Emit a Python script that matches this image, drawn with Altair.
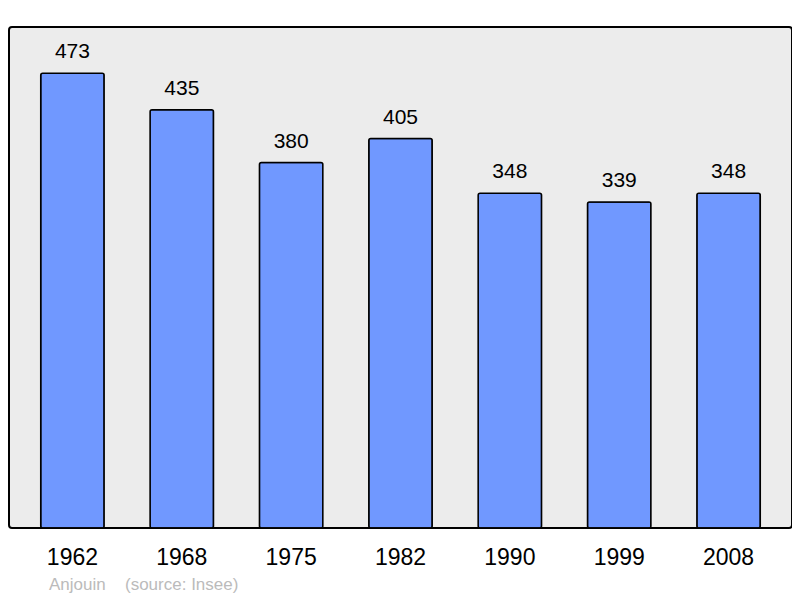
import altair as alt
import pandas as pd

years = ["1962", "1968", "1975", "1982", "1990", "1999", "2008"]
population = [473, 435, 380, 405, 348, 339, 348]
footer_name = ["Anjouin"]
footer_source = ["(source: Insee)"]

df = pd.DataFrame({"year": years, "pop": population})

x = alt.X("year:N", sort=years, title=None,
          scale=alt.Scale(paddingInner=0.42, paddingOuter=0.29),
          axis=alt.Axis(labelAngle=0, labelFontSize=23, labelFont="Liberation Sans",
                        labelColor="black", domain=False, ticks=False, labelPadding=18))
y = alt.Y("pop:Q", title=None, scale=alt.Scale(domain=[0, 521], nice=False, zero=True),
          axis=None)

bars = alt.Chart(df).mark_bar(color="#7098ff", stroke="black", strokeWidth=1.5,
                              cornerRadius=2).encode(x=x, y=y)
labels = alt.Chart(df).mark_text(dy=-21, fontSize=21, font="Liberation Sans",
                                 color="black").encode(x=x, y=y, text="pop:Q")
foot1 = alt.Chart(pd.DataFrame({"t": footer_name})).mark_text(
    align="left", baseline="middle", fontSize=17,
    font="Liberation Sans", color="#bbbbbb").encode(
    x=alt.value(40), y=alt.value(558), text="t:N")
foot2 = alt.Chart(pd.DataFrame({"t": footer_source})).mark_text(
    align="left", baseline="middle", fontSize=17,
    font="Liberation Sans", color="#bbbbbb").encode(
    x=alt.value(116), y=alt.value(558), text="t:N")

chart = alt.layer(bars, labels, foot1, foot2).properties(
    width=783, height=501,
    autosize=alt.AutoSizeParams(type="none"),
    padding={"left": 1, "top": 19, "right": 0, "bottom": 70},
    background="white",
).configure_view(fill="#ececec", stroke="black", strokeWidth=2, cornerRadius=3)

chart.save("out.html", embed_options={"renderer": "svg", "actions": False})
